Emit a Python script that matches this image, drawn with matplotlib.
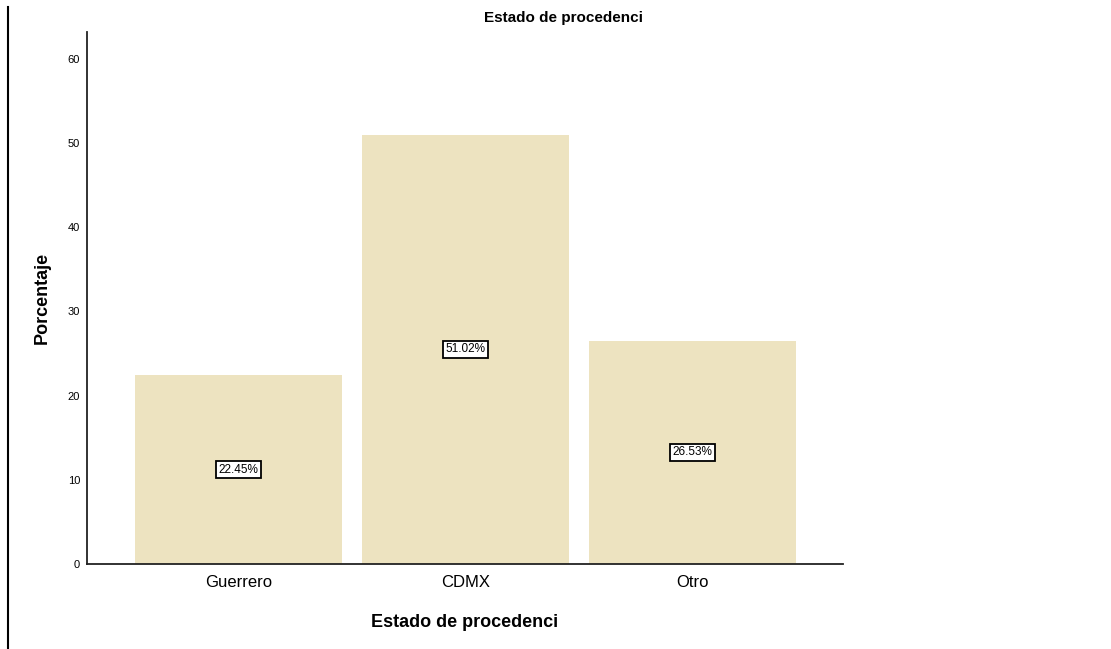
import matplotlib
matplotlib.use("Agg")
import matplotlib.pyplot as plt
from matplotlib.lines import Line2D

categories = ["Guerrero", "CDMX", "Otro"]
values = [22.45, 51.02, 26.53]
labels = ["22.45%", "51.02%", "26.53%"]
yticks = [0, 10, 20, 30, 40, 50, 60]

plt.rcParams['font.family'] = ['Liberation Sans', 'DejaVu Sans']

W, H = 1111, 649
fig = plt.figure(figsize=(W/100, H/100), dpi=100)
ax = fig.add_axes([87/W, 1-564/H, (843-87)/W, (564-32)/H])

x = list(range(len(categories)))
ax.bar(x, values, width=0.912, color='#EDE3C0', zorder=2)
for xi, v, lab in zip(x, values, labels):
    ax.text(xi, v/2, lab, ha='center', va='center', fontsize=8.5,
            bbox=dict(boxstyle='square,pad=0.2', fc='white', ec='black', lw=1.3), zorder=3)

ax.set_xlim(-0.667, 2.663)
ax.set_ylim(0, 63.2)
ax.set_yticks(yticks)
ax.set_yticklabels([str(t) for t in yticks], fontsize=8)
ax.set_xticks(x)
ax.set_xticklabels(categories, fontsize=12)
ax.tick_params(axis='both', length=0)
ax.tick_params(axis='y', pad=5)
ax.tick_params(axis='x', pad=8)
for s in ['top', 'right']:
    ax.spines[s].set_visible(False)
for s in ['left', 'bottom']:
    ax.spines[s].set_linewidth(1.3)
    ax.spines[s].set_color('#222222')

ax.set_xlabel("Estado de procedenci", fontsize=13, fontweight='bold', labelpad=17)
ax.set_ylabel("Porcentaje", fontsize=13, fontweight='bold', labelpad=12)
fig.text(563/W, 1-18/H, "Estado de procedenci", ha='center', va='center', fontsize=11, fontweight='bold')

fig.add_artist(Line2D([8/W, 8/W], [0, 1-7/H], transform=fig.transFigure, color='black', lw=1.5))

fig.savefig("out.png", dpi=100)
